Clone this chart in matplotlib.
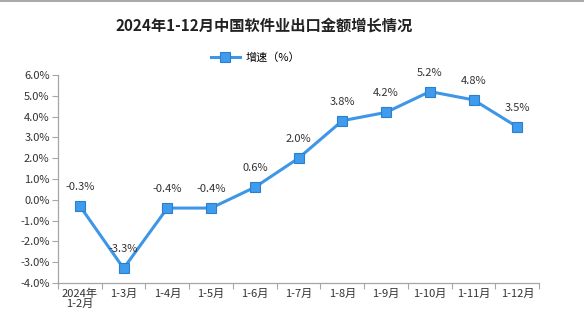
import matplotlib.pyplot as plt
import numpy as np

plt.rcParams['font.family'] = ['Noto Sans CJK SC', 'DejaVu Sans']

periods = ['2024年\n1-2月', '1-3月', '1-4月', '1-5月', '1-6月', '1-7月',
           '1-8月', '1-9月', '1-10月', '1-11月', '1-12月']
growth = [-0.3, -3.3, -0.4, -0.4, 0.6, 2.0, 3.8, 4.2, 5.2, 4.8, 3.5]
y_ticks = [-4, -3, -2, -1, 0, 1, 2, 3, 4, 5, 6]

line_color = '#3d96e6'
axis_color = '#a6a6a6'

fig = plt.figure(figsize=(5.84, 3.23), dpi=100)
ax = fig.add_axes([0.0993, 0.124, 0.824, 0.644])

x = np.arange(len(periods))
ax.plot(x, growth, color=line_color, lw=2.2, marker='s', markersize=7,
        markerfacecolor='#3f9cec', markeredgecolor='#2c7fcf', markeredgewidth=0.8,
        label='增速（%）', zorder=3)

for xi, v in zip(x, growth):
    ax.annotate(f'{v:.1f}%', (xi, v), xytext=(0, 10), textcoords='offset points',
                ha='center', va='bottom', fontsize=8, color='#333333')

ax.set_xlim(-0.5, len(periods) - 0.5)
ax.set_ylim(-4, 6)
ax.set_yticks(y_ticks)
ax.set_yticklabels([f'{t:.1f}%' for t in y_ticks], fontsize=8, color='#333333')

ax.set_xticks(x)
ax.set_xticklabels(periods, fontsize=8, color='#333333', linespacing=1.05)
ax.tick_params(axis='x', length=0, pad=4)
ax.set_xticks(np.arange(len(periods) + 1) - 0.5, minor=True)
ax.tick_params(axis='x', which='minor', length=4, color=axis_color, width=0.8)
ax.tick_params(axis='y', length=4, color=axis_color, width=0.8, pad=2)

for side in ['top', 'right']:
    ax.spines[side].set_visible(False)
for side in ['left', 'bottom']:
    ax.spines[side].set_color(axis_color)
    ax.spines[side].set_linewidth(0.9)

fig.text(0.452, 0.922, '2024年1-12月中国软件业出口金额增长情况', ha='center', va='center',
         fontsize=11, fontweight='bold', color='#222222')
fig.legend(loc='center', bbox_to_anchor=(0.437, 0.823), frameon=False, fontsize=8,
           handlelength=2.6, handletextpad=0.5)

# thin frame line along the top edge
fig.add_artist(plt.Line2D([0, 1], [0.997, 0.997], color='#9a9a9a', lw=1.2,
                          transform=fig.transFigure))

fig.savefig('out.png', dpi=100, facecolor='white')
